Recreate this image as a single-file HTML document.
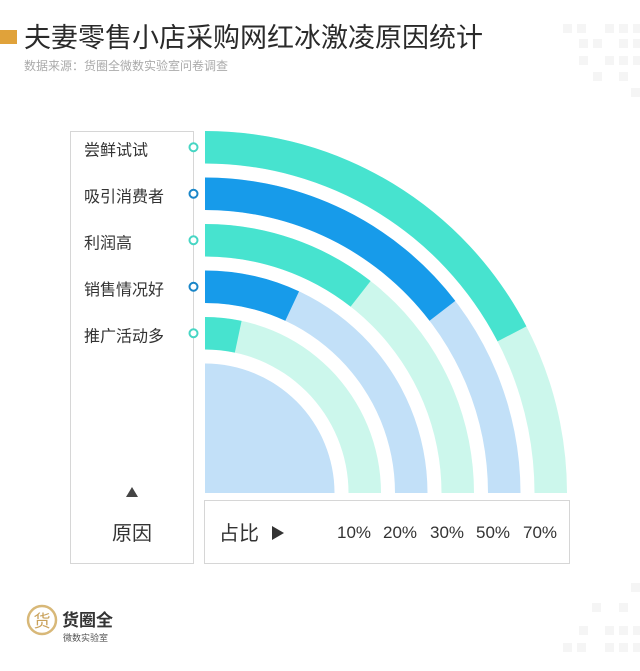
<!DOCTYPE html>
<html><head><meta charset="utf-8"><style>
body{margin:0;width:640px;height:666px;background:#fff;overflow:hidden;font-family:"Liberation Sans","Noto Sans CJK SC",sans-serif;}
</style></head><body>
<svg width="640" height="666" viewBox="0 0 640 666" xmlns="http://www.w3.org/2000/svg" style="font-family:'Liberation Sans','Noto Sans CJK SC',sans-serif">
<g fill="#f5f5f5">
<rect x="563" y="24" width="9" height="9"/><rect x="577" y="24" width="9" height="9"/><rect x="605" y="24" width="9" height="9"/><rect x="619" y="24" width="9" height="9"/><rect x="633" y="24" width="9" height="9"/>
<rect x="579" y="39" width="9" height="9"/><rect x="593" y="39" width="9" height="9"/><rect x="619" y="39" width="9" height="9"/><rect x="633" y="39" width="9" height="9"/>
<rect x="579" y="56" width="9" height="9"/><rect x="605" y="56" width="9" height="9"/><rect x="619" y="56" width="9" height="9"/><rect x="633" y="56" width="9" height="9"/>
<rect x="593" y="72" width="9" height="9"/><rect x="619" y="72" width="9" height="9"/><rect x="631" y="88" width="9" height="9"/>
<rect x="631" y="583" width="9" height="9"/><rect x="592" y="603" width="9" height="9"/><rect x="619" y="603" width="9" height="9"/>
<rect x="579" y="626" width="9" height="9"/><rect x="605" y="626" width="9" height="9"/><rect x="619" y="626" width="9" height="9"/><rect x="633" y="626" width="9" height="9"/>
<rect x="563" y="643" width="9" height="9"/><rect x="577" y="643" width="9" height="9"/><rect x="605" y="643" width="9" height="9"/><rect x="619" y="643" width="9" height="9"/><rect x="633" y="643" width="9" height="9"/>
</g>
<rect x="0" y="30" width="17" height="14" fill="#e0a23a"/>
<text x="24" y="47" font-size="27" fill="#2a2a2a">夫妻零售小店采购网红冰激凌原因统计</text>
<text x="24" y="70" font-size="12" fill="#aaa">数据来源：货圈全微数实验室问卷调查</text>
<rect x="70.5" y="131.5" width="123" height="432" fill="none" stroke="#d6d6d6"/>
<rect x="204.5" y="500.5" width="365" height="63" fill="none" stroke="#d6d6d6"/>
<g id="rings"></g>
<g id="labels"></g>
<path d="M126 497 L132 487 L138 497Z" fill="#444"/>
<text x="132" y="540" font-size="20" fill="#333" text-anchor="middle">原因</text>
<text x="219" y="540" font-size="20" fill="#333">占比</text>
<path d="M272 526 L284 533 L272 540Z" fill="#333"/>
<g id="ticks"></g>
<g>
<circle cx="42" cy="620" r="14" fill="none" stroke="#d8b878" stroke-width="2.5"/>
<text x="42" y="627" font-size="17" fill="#c9a15a" text-anchor="middle">货</text>
<text x="62" y="626" font-size="17" font-weight="bold" fill="#333">货圈全</text>
<text x="63" y="641" font-size="9" fill="#555">微数实验室</text>
</g>
</svg>
<script>
const categories = ["尝鲜试试","吸引消费者","利润高","销售情况好","推广活动多"];
const values = [70, 50, 30, 20, 10];
const tickLabels = ["10%","20%","30%","50%","70%"];
const NS="http://www.w3.org/2000/svg";
const cx=205, cy=493;
const outerR=362, step=46.5, bandW=32.5;
const dom=[0,10,20,30,50,70,100], rng=[0,12,25,38,52.5,62.6,90];
function angle(v){for(let i=1;i<dom.length;i++){if(v<=dom[i]){const t=(v-dom[i-1])/(dom[i]-dom[i-1]);return rng[i-1]+t*(rng[i]-rng[i-1]);}}return 90;}
function pt(r,deg){const a=deg*Math.PI/180;return [cx+r*Math.sin(a), cy-r*Math.cos(a)];}
function arc(r0,r1,a0,a1){const p1=pt(r1,a0),p2=pt(r1,a1),p3=pt(r0,a1),p4=pt(r0,a0);const l=(a1-a0)>180?1:0;
return `M${p1[0]},${p1[1]} A${r1},${r1} 0 ${l} 1 ${p2[0]},${p2[1]} L${p3[0]},${p3[1]} A${r0},${r0} 0 ${l} 0 ${p4[0]},${p4[1]}Z`;}
const rings=document.getElementById('rings'), labels=document.getElementById('labels'), ticks=document.getElementById('ticks');
const inner=document.createElementNS(NS,'path');
const ri=outerR-values.length*step;
inner.setAttribute('d',`M${cx},${cy} L${cx},${cy-ri} A${ri},${ri} 0 0 1 ${cx+ri},${cy}Z`);
inner.setAttribute('fill','#c2e0f8');


rings.appendChild(inner);
values.forEach((v,i)=>{
  const r1=outerR-i*step, r0=r1-bandW;
  const teal=i%2===0;
  const bg=document.createElementNS(NS,'path');
  bg.setAttribute('d',arc(r0,r1,0,90));
  bg.setAttribute('fill',teal?'#ccf7ec':'#c2e0f8');
  
  
  rings.appendChild(bg);
  const fg=document.createElementNS(NS,'path');
  fg.setAttribute('d',arc(r0,r1,0,angle(v)));
  fg.setAttribute('fill',teal?'#47e3cf':'#179bea');
  
  
  rings.appendChild(fg);
  const y=cy-(r0+r1)/2;
  const t=document.createElementNS(NS,'text');
  t.setAttribute('x',84);t.setAttribute('y',y+8);t.setAttribute('font-size','16');t.setAttribute('fill','#333');
  t.textContent=categories[i];
  
  
  labels.appendChild(t);
  const c=document.createElementNS(NS,'circle');
  c.setAttribute('cx',193.5);c.setAttribute('cy',y);c.setAttribute('r',4);c.setAttribute('fill','#fff');
  c.setAttribute('stroke',teal?'#47d6c4':'#1a86c8');c.setAttribute('stroke-width','2');
  
  
  labels.appendChild(c);
});
const tickX=[354,400,447,493,540];
tickLabels.forEach((s,i)=>{
  const t=document.createElementNS(NS,'text');
  t.setAttribute('x',tickX[i]);t.setAttribute('y',538);t.setAttribute('font-size','17');t.setAttribute('fill','#333');t.setAttribute('text-anchor','middle');
  t.textContent=s;
  
  
  ticks.appendChild(t);
});
</script>
</body></html>
